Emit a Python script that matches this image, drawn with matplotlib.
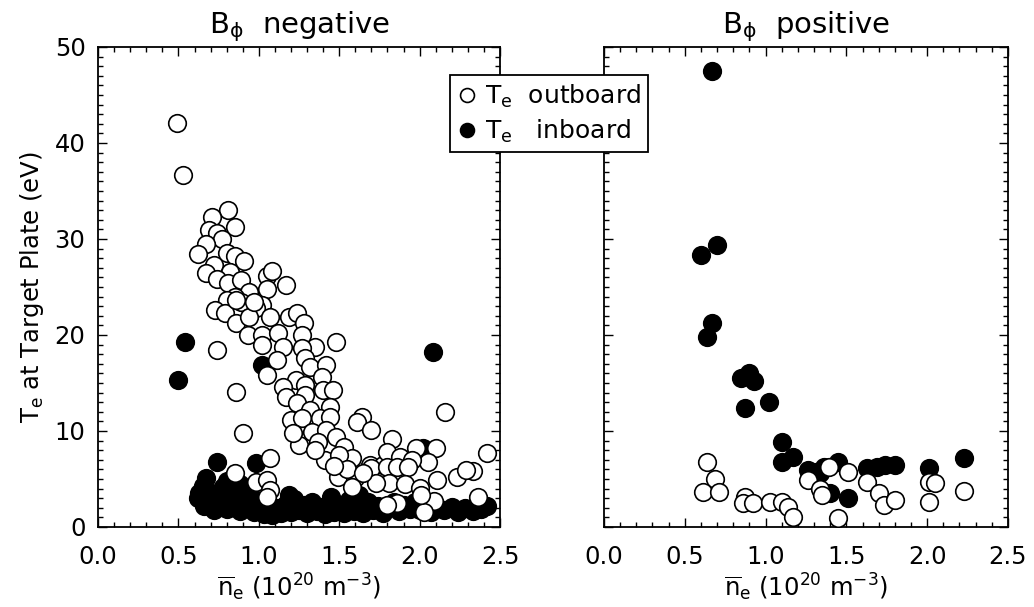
"""Te at target plate vs line-averaged density, B_phi negative / positive."""

import matplotlib

matplotlib.use("Agg")
import matplotlib.pyplot as plt  # noqa: E402
from matplotlib.ticker import MultipleLocator  # noqa: E402

# ---- data (x: n_e in 1e20 m^-3, y: Te in eV) ----
neg_out_x = [
    0.49, 0.53, 0.81, 0.71, 0.85, 0.69, 0.74, 0.77, 0.67, 0.62, 0.80, 0.85, 0.91, 0.72,
    0.67, 0.82, 0.74, 0.81, 0.89, 1.05, 1.08, 1.17, 0.94, 1.05, 0.85, 0.80, 0.89, 1.02,
    0.73, 0.79, 0.98, 1.07, 1.19, 1.24, 0.86, 0.94, 1.28, 0.93, 1.02, 1.12, 1.27, 0.74,
    1.15, 1.35, 0.86, 0.97,
    1.48, 1.02, 1.27, 1.29, 1.11, 1.05, 1.32, 1.42, 1.39, 1.23, 1.15, 1.29, 1.40, 1.46,
    1.17, 1.29, 1.24, 1.44, 1.32, 0.86, 1.20, 1.27, 1.38, 1.44, 1.64, 1.61, 1.70, 1.33,
    1.42, 1.48, 1.37, 0.90, 1.25, 1.53, 1.83, 1.41, 1.07, 1.58, 1.50, 1.69, 1.77, 1.98,
    2.16, 2.10, 2.42, 1.80, 1.88, 2.05, 1.95, 1.70, 1.80, 1.86, 1.93, 1.49, 1.60, 1.81,
    1.91, 1.73, 2.11, 2.23, 2.33, 1.58, 2.00, 2.36, 1.86, 1.80, 2.09, 2.03, 2.01, 2.29,
    1.55, 1.65, 1.35, 1.21, 1.47,
    0.85, 0.98, 1.05, 1.07, 1.05,
]
neg_out_y = [
    42.1, 36.7, 33.0, 32.3, 31.2, 30.9, 30.6, 30.0, 29.5, 28.4, 28.5, 28.2, 27.7, 27.3,
    26.5, 26.6, 25.8, 25.4, 25.7, 26.1, 26.7, 25.2, 24.5, 24.8, 24.0, 23.6, 23.4, 23.1,
    22.6, 22.3, 22.8, 21.9, 21.9, 22.3, 21.2, 21.9, 21.2, 20.0, 20.0, 20.2, 20.0, 18.4,
    18.8, 18.8, 23.6, 23.4,
    19.3, 19.0, 18.6, 17.6, 17.4, 15.8, 16.7, 16.9, 15.6, 15.3, 14.6, 14.8, 14.3, 14.3,
    13.5, 13.8, 12.9, 12.5, 12.2, 14.1, 11.1, 11.4, 11.4, 11.5, 11.5, 10.9, 10.1, 9.9,
    10.1, 9.4, 8.9, 9.8, 8.5, 8.3, 9.2, 7.0, 7.2, 7.2, 7.5, 6.5, 6.5, 8.2,
    12.0, 8.2, 7.7, 7.8, 7.3, 6.8, 7.0, 6.1, 6.3, 6.3, 6.3, 5.2, 5.1, 4.6,
    4.5, 4.6, 4.9, 5.2, 5.8, 4.2, 4.1, 3.1, 2.5, 2.3, 2.7, 1.6, 3.3, 5.9,
    6.0, 5.6, 8.0, 9.8, 6.4,
    5.6, 4.7, 4.9, 3.9, 3.1,
]
neg_in_x = [
    0.50, 0.54, 1.02, 2.08, 2.02, 0.74, 0.98, 0.67, 0.63, 0.65, 0.80, 0.88,
    0.62, 0.66, 0.68, 0.70, 0.72, 0.74, 0.76, 0.78, 0.80, 0.82, 0.84, 0.86, 0.88, 0.90,
    0.92, 0.95, 0.97, 1.00, 1.03, 1.06, 1.08, 1.11, 1.14, 1.17, 1.20, 1.22, 1.25, 1.28,
    1.30, 1.33, 1.36, 1.38, 1.41, 1.44, 1.47, 1.50, 1.53, 1.56, 1.59, 1.62, 1.65, 1.68,
    1.71, 1.74, 1.77, 1.80, 1.84, 1.87, 1.90, 1.94, 1.97, 2.00, 2.04, 2.07, 2.10, 2.15,
    2.20, 2.24, 2.28, 2.33, 2.38, 2.42, 1.19, 1.45, 1.62,
]
neg_in_y = [
    15.3, 19.3, 16.9, 18.2, 8.2, 6.8, 6.7, 5.1, 3.5, 4.3, 4.8, 4.5,
    3.0, 2.2, 3.8, 2.6, 1.8, 3.5, 2.4, 4.2, 1.9, 3.0, 2.1, 3.6, 1.7, 2.8,
    2.0, 3.2, 1.6, 2.5, 1.4, 2.2, 1.3, 2.0, 1.5, 2.4, 1.6, 2.9, 1.8, 2.3,
    1.5, 2.6, 1.7, 2.1, 1.4, 2.5, 1.6, 2.2, 1.5, 2.8, 1.7, 2.3, 1.5, 2.6,
    1.8, 2.2, 1.5, 2.0, 2.6, 1.7, 2.3, 1.9, 2.6, 1.8, 2.4, 1.6, 2.2, 1.8,
    2.1, 1.6, 2.0, 1.7, 1.9, 2.2, 3.3, 3.1, 3.3,
]

pos_in_x = [
    0.67, 0.60, 0.70, 0.67, 0.64, 0.85, 0.90, 0.93, 0.87, 1.02, 1.10, 1.10, 1.17, 1.26,
    1.34, 1.36, 1.45, 1.40, 1.51, 1.63, 1.69, 1.74, 1.80, 2.01, 2.23, 1.31,
]
pos_in_y = [
    47.5, 28.3, 29.4, 21.3, 19.8, 15.5, 16.0, 15.2, 12.4, 13.0, 8.9, 6.8, 7.3, 5.9,
    5.6, 6.3, 6.8, 3.5, 3.0, 6.1, 6.3, 6.5, 6.5, 6.1, 7.2, 5.7,
]
pos_out_x = [
    0.64, 0.69, 0.61, 0.71, 0.87, 0.86, 0.92, 1.03, 1.10, 1.14, 1.17, 1.26, 1.34, 1.35,
    1.39, 1.51, 1.45, 1.63, 1.70, 1.73, 1.80, 2.01, 2.05, 2.01, 2.23,
]
pos_out_y = [
    6.8, 5.0, 3.6, 3.6, 3.1, 2.5, 2.5, 2.6, 2.6, 2.1, 1.0, 4.9, 4.0, 3.3,
    6.3, 5.7, 0.9, 4.7, 3.5, 2.3, 2.8, 4.7, 4.6, 2.6, 3.8,
]

titles = [r"B$_\phi$  negative", r"B$_\phi$  positive"]
xlabel = r"$\overline{n}_e$ (10$^{20}$ m$^{-3}$)"
ylabel = r"T$_e$ at Target Plate (eV)"
legend_labels = [r"T$_e$  outboard", r"T$_e$   inboard"]


def style_axis(ax, show_ylabels):
    ax.set_xlim(0.0, 2.5)
    ax.set_ylim(0.0, 50.0)
    ax.xaxis.set_major_locator(MultipleLocator(0.5))
    ax.xaxis.set_minor_locator(MultipleLocator(0.1))
    ax.yaxis.set_major_locator(MultipleLocator(10))
    ax.yaxis.set_minor_locator(MultipleLocator(1))
    ax.xaxis.set_major_formatter(lambda v, _: f"{v:.1f}")
    ax.tick_params(which="both", direction="in", top=True, right=True, width=1.0,
                   labelsize=17.5, labelleft=show_ylabels)
    ax.tick_params(which="major", length=6.5)
    ax.tick_params(which="minor", length=3.5)
    ax.tick_params(axis="x", pad=13)
    ax.tick_params(axis="y", pad=9)
    for spine in ax.spines.values():
        spine.set_linewidth(1.3)
    ax.set_xlabel(xlabel, fontsize=17.5, labelpad=2)


def main():
    plt.rcParams["font.family"] = ["DejaVu Sans"]
    plt.rcParams["mathtext.default"] = "regular"

    fig = plt.figure(figsize=(10.34, 6.07), dpi=100)
    ax_neg = fig.add_axes([0.0948, 0.1318, 0.3888, 0.7908])
    ax_pos = fig.add_axes([0.5841, 0.1318, 0.3907, 0.7908])

    marker_kw = dict(s=160, linewidths=1.2, edgecolors="black", marker="o")
    panels = [
        (ax_neg, neg_in_x, neg_in_y, neg_out_x, neg_out_y),
        (ax_pos, pos_in_x, pos_in_y, pos_out_x, pos_out_y),
    ]
    for i, (ax, in_x, in_y, out_x, out_y) in enumerate(panels):
        ax.scatter(in_x, in_y, facecolors="black", zorder=2, **marker_kw)
        ax.scatter(out_x, out_y, facecolors="white", zorder=3, **marker_kw)
        style_axis(ax, show_ylabels=(i == 0))
        ax.text(0.5, 1.029, titles[i], transform=ax.transAxes, ha="center",
                va="baseline", fontsize=21)
    ax_neg.set_ylabel(ylabel, fontsize=17.5, labelpad=6)

    handles = [
        plt.Line2D([], [], ls="none", marker="o", ms=10, mfc="white", mec="black", mew=1.2),
        plt.Line2D([], [], ls="none", marker="o", ms=10, mfc="black", mec="black", mew=1.2),
    ]
    leg = fig.legend(handles, legend_labels, loc="upper left", bbox_to_anchor=(0.435, 0.876),
                     fontsize=18, frameon=True, fancybox=False, framealpha=1.0,
                     edgecolor="black", facecolor="white", handlelength=0.8,
                     handletextpad=0.3, borderpad=0.3, labelspacing=0.3,
                     borderaxespad=0.0)
    leg.get_frame().set_linewidth(1.3)
    leg.set_zorder(10)

    fig.savefig("out.png", dpi=100)
    plt.close(fig)


if __name__ == "__main__":
    main()
